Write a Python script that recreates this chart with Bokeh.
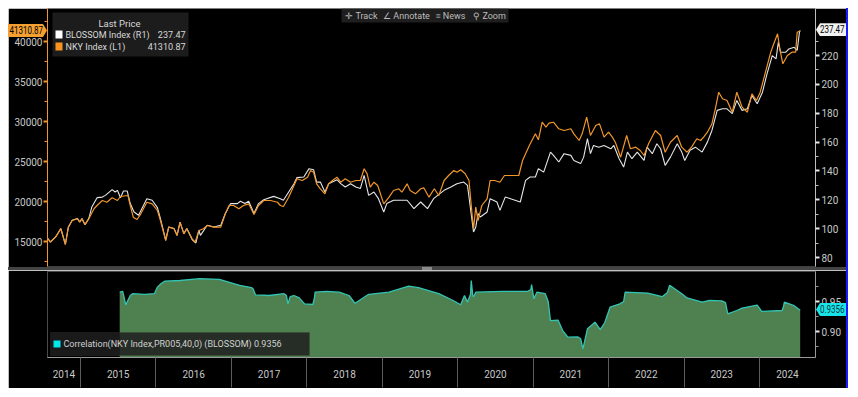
from bokeh.plotting import figure
from bokeh.models import (Range1d, LinearAxis, FixedTicker, Label, BoxAnnotation, Div,
                          CustomJSTickFormatter, PrintfTickFormatter)
from bokeh.layouts import column, row
from bokeh.embed import file_html
from bokeh.resources import INLINE

FONT = "Roboto"

# ---------------- data ----------------
nky_t = [2014.57, 2014.60, 2014.67, 2014.74, 2014.80, 2014.84, 2014.89, 2014.96, 2014.99, 2015.02,
         2015.06, 2015.11, 2015.18, 2015.22, 2015.29, 2015.35, 2015.42, 2015.49, 2015.53, 2015.63,
         2015.66, 2015.70, 2015.75, 2015.80, 2015.88, 2015.95, 2016.02, 2016.06, 2016.13, 2016.17,
         2016.24, 2016.28, 2016.32, 2016.37, 2016.41, 2016.48, 2016.52, 2016.57, 2016.63, 2016.68,
         2016.77, 2016.86, 2016.92, 2016.97, 2017.03, 2017.10, 2017.16, 2017.23, 2017.30, 2017.36,
         2017.43, 2017.52, 2017.61, 2017.65, 2017.69, 2017.76, 2017.83, 2017.87, 2017.94, 2018.01,
         2018.05, 2018.09, 2018.13, 2018.18, 2018.24, 2018.29, 2018.34, 2018.40, 2018.45, 2018.51,
         2018.58, 2018.65, 2018.71, 2018.76, 2018.80, 2018.84, 2018.89, 2018.94, 2019.02, 2019.09,
         2019.15, 2019.22, 2019.26, 2019.33, 2019.37, 2019.44, 2019.51, 2019.55, 2019.62, 2019.69,
         2019.75, 2019.82, 2019.88, 2019.95, 2019.99, 2020.04, 2020.10, 2020.15, 2020.19, 2020.21,
         2020.24, 2020.27, 2020.32, 2020.39, 2020.43, 2020.49, 2020.56, 2020.62, 2020.68, 2020.75,
         2020.81, 2020.86, 2020.95, 2021.03, 2021.07, 2021.12, 2021.17, 2021.21, 2021.27, 2021.34,
         2021.41, 2021.50, 2021.54, 2021.61, 2021.65, 2021.71, 2021.76, 2021.83, 2021.88, 2021.94,
         2022.00, 2022.05, 2022.09, 2022.16, 2022.24, 2022.29, 2022.36, 2022.42, 2022.47, 2022.53,
         2022.62, 2022.69, 2022.75, 2022.82, 2022.91, 2022.97, 2023.04, 2023.10, 2023.17, 2023.22,
         2023.26, 2023.31, 2023.37, 2023.42, 2023.46, 2023.51, 2023.57, 2023.64, 2023.70, 2023.77,
         2023.84, 2023.90, 2023.96, 2024.01, 2024.08, 2024.15, 2024.19, 2024.24, 2024.27, 2024.31,
         2024.37, 2024.43, 2024.48, 2024.50, 2024.54]
nky_v = [15340, 14910, 15540, 16590, 14625, 16790, 17625, 17840, 17410, 17840,
         17090, 17840, 19090, 19500, 20125, 19910, 20460, 20125, 20625, 20750,
         19500, 18040, 17750, 18460, 19910, 19710, 18875, 17625, 15125, 16790,
         16590, 15750, 17410, 15960, 16590, 15340, 14910, 16375, 16590, 17000,
         16790, 16790, 18460, 19500, 19500, 19090, 19500, 19710, 18375, 19500,
         20125, 20125, 19910, 19500, 19375, 20540, 22000, 22840, 22625, 23040,
         23875, 23660, 22210, 21590, 20960, 22210, 22625, 23040, 22410, 22840,
         22410, 22625, 22625, 24090, 23460, 21790, 22410, 22000, 19710, 20540,
         21375, 21590, 21160, 22210, 21375, 20960, 21590, 21710, 20540, 21590,
         20750, 22625, 23250, 23875, 23660, 23960, 23460, 22625, 18460, 16590,
         19290, 17625, 19500, 20340, 22625, 22625, 22410, 23250, 23250, 23250,
         23250, 25125, 27000, 28460, 27710, 29910, 29290, 29790, 29910, 29090,
         28875, 29090, 28460, 27625, 28460, 30540, 28250, 29500, 29710, 28040,
         28660, 28040, 27410, 25540, 28250, 26590, 26790, 26375, 25750, 27210,
         28875, 28250, 26160, 27410, 28250, 26790, 26160, 26790, 27840, 27625,
         28040, 28660, 29710, 31790, 33660, 32840, 32625, 31160, 33660, 31790,
         31160, 33460, 32625, 33660, 36160, 38660, 39710, 40960, 39090, 37210,
         38250, 38660, 38660, 41160, 41310.87]

blossom_t = [2014.57, 2014.60, 2014.67, 2014.74, 2014.80, 2014.84, 2014.89, 2014.96, 2014.99, 2015.02,
             2015.06, 2015.11, 2015.15, 2015.22, 2015.29, 2015.33, 2015.42, 2015.46, 2015.49, 2015.53,
             2015.57, 2015.62, 2015.66, 2015.71, 2015.77, 2015.88, 2015.95, 2016.02, 2016.06, 2016.13,
             2016.17, 2016.24, 2016.28, 2016.32, 2016.37, 2016.41, 2016.48, 2016.53, 2016.57, 2016.59,
             2016.68, 2016.77, 2016.86, 2016.92, 2016.99, 2017.08, 2017.12, 2017.18, 2017.23, 2017.30,
             2017.36, 2017.43, 2017.56, 2017.65, 2017.69, 2017.76, 2017.83, 2017.87, 2017.96, 2018.03,
             2018.09, 2018.13, 2018.18, 2018.24, 2018.29, 2018.40, 2018.45, 2018.51, 2018.58, 2018.65,
             2018.71, 2018.76, 2018.82, 2018.89, 2018.95, 2019.02, 2019.06, 2019.15, 2019.22, 2019.33,
             2019.42, 2019.51, 2019.60, 2019.68, 2019.82, 2019.91, 2019.99, 2020.08, 2020.13, 2020.21,
             2020.24, 2020.27, 2020.30, 2020.39, 2020.43, 2020.52, 2020.56, 2020.63, 2020.70, 2020.83,
             2020.90, 2020.96, 2021.03, 2021.07, 2021.14, 2021.23, 2021.27, 2021.34, 2021.41, 2021.50,
             2021.54, 2021.63, 2021.67, 2021.72, 2021.76, 2021.80, 2021.87, 2021.94, 2022.03, 2022.07,
             2022.14, 2022.20, 2022.25, 2022.31, 2022.38, 2022.47, 2022.51, 2022.58, 2022.64, 2022.69,
             2022.75, 2022.82, 2022.91, 2022.97, 2023.01, 2023.08, 2023.15, 2023.24, 2023.31, 2023.37,
             2023.44, 2023.51, 2023.57, 2023.64, 2023.70, 2023.77, 2023.84, 2023.90, 2023.97, 2024.04,
             2024.10, 2024.17, 2024.22, 2024.25, 2024.28, 2024.35, 2024.39, 2024.46, 2024.50, 2024.53,
             2024.54]
blossom_v = [93.2, 90.8, 94.3, 100.1, 89.2, 101.2, 105.8, 107.0, 104.6, 107.0,
             102.8, 107.0, 115.0, 121.5, 121.9, 123.1, 127.1, 125.4, 126.6, 121.5,
             126.1, 126.1, 117.4, 111.6, 109.3, 120.8, 119.7, 114.6, 107.0, 92.0,
             101.2, 100.1, 95.4, 104.6, 96.6, 100.1, 92.5, 90.1, 98.9, 95.4,
             102.4, 101.2, 102.4, 110.5, 117.4, 117.4, 119.0, 117.4, 119.0, 110.5,
             117.4, 120.1, 122.4, 120.8, 119.7, 125.4, 131.2, 135.4, 135.8, 141.6,
             140.9, 132.3, 132.3, 125.4, 131.2, 134.0, 131.2, 128.9, 131.2, 128.9,
             127.8, 137.0, 123.1, 125.4, 120.8, 111.6, 117.4, 119.7, 119.7, 119.7,
             113.9, 118.5, 113.9, 120.8, 126.6, 128.9, 131.2, 132.3, 130.0, 97.7,
             101.2, 110.5, 108.1, 111.6, 120.8, 118.5, 112.7, 121.9, 120.8, 118.5,
             133.5, 135.8, 135.8, 141.6, 139.2, 153.1, 150.8, 146.2, 152.0, 150.8,
             147.3, 145.1, 149.6, 162.4, 152.0, 157.7, 156.5, 157.7, 155.4, 157.7,
             148.5, 142.7, 153.1, 148.5, 153.1, 147.3, 156.5, 152.0, 158.9, 155.4,
             143.9, 149.6, 158.9, 153.1, 147.3, 154.3, 156.5, 153.1, 160.0, 168.1,
             182.0, 183.1, 183.1, 179.7, 188.9, 182.0, 183.1, 192.3, 186.6, 194.6,
             207.3, 220.0, 217.7, 229.2, 222.3, 222.3, 224.6, 225.7, 223.5, 236.1,
             237.47]

corr_t = [2015.52, 2015.56, 2015.60, 2015.66, 2015.69, 2015.85, 2015.98, 2016.02, 2016.07, 2016.12,
          2016.32, 2016.58, 2016.84, 2017.11, 2017.27, 2017.29, 2017.32, 2017.50, 2017.70, 2017.73,
          2017.75, 2017.78, 2017.83, 2017.90, 2017.97, 2018.08, 2018.10, 2018.11, 2018.26, 2018.43,
          2018.56, 2018.64, 2018.82, 2019.09, 2019.35, 2019.48, 2019.75, 2019.94, 2020.04, 2020.09,
          2020.13, 2020.17, 2020.18, 2020.20, 2020.21, 2020.24, 2020.60, 2020.93, 2020.97, 2020.98,
          2021.01, 2021.05, 2021.16, 2021.20, 2021.23, 2021.33, 2021.39, 2021.46, 2021.59, 2021.63,
          2021.66, 2021.72, 2021.82, 2021.89, 2021.95, 2022.02, 2022.15, 2022.20, 2022.22, 2022.52,
          2022.71, 2022.78, 2022.81, 2022.98, 2023.04, 2023.24, 2023.34, 2023.50, 2023.55, 2023.58,
          2023.70, 2023.77, 2023.97, 2024.03, 2024.30, 2024.32, 2024.33, 2024.46, 2024.54]
corr_v = [0.9655, 0.967, 0.9445, 0.960, 0.963, 0.962, 0.963, 0.974, 0.980, 0.984,
          0.985, 0.988, 0.987, 0.977, 0.973, 0.971, 0.961, 0.960, 0.963, 0.960,
          0.946, 0.958, 0.960, 0.956, 0.946, 0.945, 0.955, 0.9655, 0.967, 0.9655,
          0.960, 0.947, 0.962, 0.9655, 0.9755, 0.973, 0.963, 0.9517, 0.9445, 0.960,
          0.949, 0.962, 0.985, 0.960, 0.958, 0.9655, 0.967, 0.967, 0.970, 0.978,
          0.9545, 0.9655, 0.963, 0.950, 0.918, 0.919, 0.902, 0.8905, 0.891, 0.888,
          0.871, 0.9045, 0.9155, 0.903, 0.915, 0.9405, 0.946, 0.950, 0.9655, 0.964,
          0.958, 0.965, 0.977, 0.962, 0.956, 0.949, 0.952, 0.951, 0.948, 0.9295,
          0.935, 0.939, 0.944, 0.9335, 0.935, 0.942, 0.949, 0.943, 0.9356]

years = list(range(2014, 2025))
nky_ticks = [15000, 20000, 25000, 30000, 35000, 40000]
blossom_ticks = [80, 100, 120, 140, 160, 180, 200, 220]
corr_ticks = [0.90, 0.95]
nky_last = 41310.87
blossom_last = 237.47
corr_last = 0.9356

# ---------------- styling / layout ----------------
ORANGE = "#f0962a"
WHITE = "#e6e6e6"
TXT = "#c8c8c8"
x_start, x_end = 2014.563, 2024.743
nky_range = (11875, 44125)
blossom_range = (73.8, 252.6)
corr_range = (0.8567, 1.0)
PAGE_X, PAGE_Y = 8, 8                # layout offset on the page
BORDER_L, BORDER_R = 39, 31
TOP_H, TOP_FRAME_H = 259, 258
SEP_H = 3
BOT_H, BOT_FRAME_H = 118, 86
FIG_W = 838

xr = Range1d(x_start, x_end)


def sbox(p, l, r, t, b, **kw):
    p.add_layout(BoxAnnotation(left=l, right=r, top=t, bottom=b, left_units="screen",
                               right_units="screen", top_units="screen", bottom_units="screen", **kw))


def slabel(p, x, y, text, size="9px", align="left", color="#d8d8d8"):
    p.add_layout(Label(x=x, y=y, x_units="screen", y_units="screen", text=text,
                       text_align=align, text_baseline="middle", text_color=color,
                       text_font=FONT, text_font_size=size))


def style_axis(ax, line, tick, tick_out=4):
    ax.axis_line_color = line
    ax.major_tick_line_color = tick
    ax.major_tick_line_width = 2
    ax.major_tick_out = tick_out
    ax.major_tick_in = 0
    ax.minor_tick_line_color = line
    ax.minor_tick_out = 3
    ax.minor_tick_in = 0
    ax.major_label_text_color = TXT
    ax.major_label_text_font = FONT
    ax.major_label_text_font_size = "10px"


top = figure(width=FIG_W, height=TOP_H, x_range=xr, y_range=Range1d(*nky_range),
             output_backend="svg", toolbar_location=None, x_axis_location=None,
             y_axis_location="left", min_border_left=BORDER_L, min_border_right=BORDER_R,
             min_border_top=0, min_border_bottom=TOP_H - TOP_FRAME_H,
             background_fill_color="black", border_fill_color="black", outline_line_color=None)
top.grid.visible = False
top.extra_y_ranges = {"bl": Range1d(*blossom_range)}

la = top.yaxis[0]
la.ticker = FixedTicker(ticks=nky_ticks,
                        minor_ticks=[t - 2500 for t in nky_ticks] + [nky_ticks[-1] + 2500])
style_axis(la, ORANGE, ORANGE)
la.major_label_standoff = 1

ra = LinearAxis(y_range_name="bl")
ra.ticker = FixedTicker(ticks=blossom_ticks, minor_ticks=[t + 10 for t in blossom_ticks])
style_axis(ra, "#bdbdbd", "#e8e8e8")
ra.major_label_standoff = 2
top.add_layout(ra, "right")

top.line(blossom_t, blossom_v, y_range_name="bl", line_color=WHITE, line_width=1.1)
top.line(nky_t, nky_v, line_color=ORANGE, line_width=1.2)

# legend box "Last Price"
sbox(top, 5, 141, 254, 210, fill_color="#1c1c1c", fill_alpha=1, line_color=None)
slabel(top, 72, 243, "Last Price", size="9.5px", align="center")
sbox(top, 8, 15, 236, 228, fill_color="white", fill_alpha=1, line_color=None)
sbox(top, 8, 15, 224, 216, fill_color="#f7941d", fill_alpha=1, line_color=None)
for ytxt, name, val in [(232, "BLOSSOM Index  (R1)", blossom_last),
                        (220, "NKY Index  (L1)", nky_last)]:
    slabel(top, 18, ytxt, name)
    slabel(top, 138, ytxt, f"{val:.2f}", align="right")

# toolbar strip
sbox(top, 294, 461, 258, 244, fill_color="#1e1e1e", fill_alpha=1, line_color=None)
for xc, t in [(314, "\u271b Track"), (359, "\u2220 Annotate"), (403, "\u2261 News"),
              (442, "\u26b2 Zoom")]:
    slabel(top, xc, 251, t, size="9px", align="center", color="#bdbdbd")

# ---------------- bottom panel ----------------
bot = figure(width=FIG_W, height=BOT_H, x_range=xr, y_range=Range1d(*corr_range),
             output_backend="svg", toolbar_location=None, x_axis_location="below",
             y_axis_location="right", min_border_left=BORDER_L, min_border_right=BORDER_R,
             min_border_top=1, min_border_bottom=BOT_H - BOT_FRAME_H - 1,
             background_fill_color="black", border_fill_color="black",
             outline_line_color="#4a4a4a")
bot.grid.visible = False

bot.varea(x=corr_t, y1=[corr_range[0]] * len(corr_t), y2=corr_v, fill_color="#4f804f")
bot.line(corr_t, corr_v, line_color="#33c4b4", line_width=1.3)

ya = bot.yaxis[0]
ya.ticker = FixedTicker(ticks=corr_ticks, minor_ticks=[0.875, 0.925, 0.975])
ya.formatter = PrintfTickFormatter(format="%.2f")
style_axis(ya, "#9a9a9a", "#e8e8e8")
ya.major_label_standoff = 2

centers = [(max(y, x_start) + min(y + 1, x_end)) / 2 for y in years]
xa = bot.xaxis[0]
xa.ticker = FixedTicker(ticks=centers, minor_ticks=years[1:])
xa.formatter = CustomJSTickFormatter(code="return String(Math.floor(tick));")
style_axis(xa, "#9a9a9a", "#9a9a9a", tick_out=0)
xa.minor_tick_line_color = "#5c5c5c"
xa.minor_tick_line_width = 1
xa.minor_tick_out = 30
xa.major_label_standoff = -18

sbox(bot, 3, 262, 25, 2, fill_color="#1e1e1e", fill_alpha=0.85, line_color="#3a3a3a")
sbox(bot, 6, 13, 17, 10, fill_color="#00e8e8", fill_alpha=1, line_color=None)
slabel(bot, 16, 13.5, f"Correlation(NKY Index,PR005,40,0) (BLOSSOM) {corr_last:.4f}",
       color="#d0d0d0")

sep = Div(text="", width=FIG_W, height=SEP_H, margin=0,
          styles={"background": "linear-gradient(to right, #444 0%, #444 49.4%, #8a8a8a 49.4%, "
                                "#8a8a8a 50.6%, #444 50.6%, #444 100%)"})
blue = Div(text="", width=2, height=TOP_H + SEP_H + BOT_H, margin=0,
           styles={"background-color": "#1a1aff"})

layout = row(column(top, sep, bot, spacing=0), blue, spacing=0,
             margin=(PAGE_Y, 0, 0, PAGE_X))


# ---------------- last-value tags (drawn over the axis margins) ----------------
def value_to_page_y(v, rng, frame_top, frame_h):
    return frame_top + (rng[1] - v) / (rng[1] - rng[0]) * frame_h


frame_left = PAGE_X + BORDER_L
frame_right = PAGE_X + FIG_W - BORDER_R
top_frame_top = PAGE_Y
bot_frame_top = PAGE_Y + TOP_H + SEP_H + 1


def tag(text, cy, left, width, bg, fg, point):
    if point == "right":
        clip = "polygon(0 0, calc(100% - 4px) 0, 100% 50%, calc(100% - 4px) 100%, 0 100%)"
        span_pos = "right:4px;"
        origin = "right"
    else:
        clip = "polygon(0 50%, 4px 0, 100% 0, 100% 100%, 4px 100%)"
        span_pos = "left:4px;"
        origin = "left"
    return (f'<div style="position:absolute;left:{left}px;top:{cy - 6.5:.1f}px;'
            f'width:{width}px;height:13px;background:{bg};'
            f'color:{fg};font:10px {FONT},sans-serif;line-height:13px;white-space:nowrap;'
            f'clip-path:{clip};">'
            f'<span style="position:absolute;top:0;{span_pos}transform:scaleX(0.8);'
            f'transform-origin:{origin} center;">{text}</span></div>')


tags = "".join([
    tag(f"{nky_last:.2f}", value_to_page_y(nky_last, nky_range, top_frame_top, TOP_FRAME_H),
        PAGE_X, frame_left - PAGE_X, "#f5a030", "#000", "right"),
    tag(f"{blossom_last:.2f}",
        value_to_page_y(blossom_last, blossom_range, top_frame_top, TOP_FRAME_H),
        frame_right + 1, 30, "#f2f2f2", "#000", "left"),
    tag(f"{corr_last:.4f}", value_to_page_y(corr_last, corr_range, bot_frame_top, BOT_FRAME_H),
        frame_right + 1, 30, "#19e3ea", "#063a3a", "left"),
])

html = file_html(layout, INLINE)
html = html.replace("</body>", tags + "</body>")
open("out.html", "w").write(html)
